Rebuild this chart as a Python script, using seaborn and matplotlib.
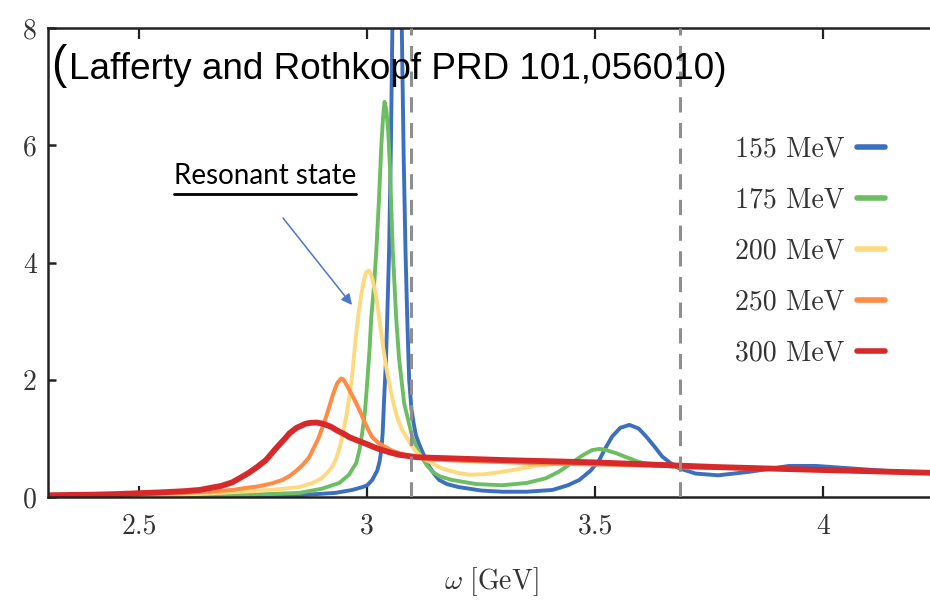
import numpy as np
import pandas as pd
import matplotlib
matplotlib.use("Agg")
import matplotlib.pyplot as plt
import seaborn as sns
from matplotlib.lines import Line2D

# ---------------- data ----------------
temps = ["155 MeV", "175 MeV", "200 MeV", "250 MeV", "300 MeV"]
colors = ["#3D6FBF", "#6DBE63", "#FFD97E", "#FF8B45", "#D7282A"]

omega_155 = [2.30, 2.70, 2.85, 2.93, 2.967, 2.99, 3.0, 3.011, 3.022, 3.027, 3.031, 3.034, 3.037,
             3.041, 3.044, 3.048, 3.052, 3.0555, 3.060, 3.066, 3.071, 3.0755, 3.080, 3.084, 3.088,
             3.092, 3.097, 3.102, 3.107, 3.114, 3.125, 3.136, 3.147, 3.158, 3.175, 3.20, 3.25,
             3.296, 3.35, 3.406, 3.44, 3.465, 3.49, 3.509, 3.52, 3.537, 3.555, 3.575, 3.595,
             3.612, 3.63, 3.647, 3.665, 3.684, 3.72, 3.77, 3.838, 3.925, 3.985, 4.057, 4.167, 4.25]
rho_155 = [0.0, 0.01, 0.03, 0.07, 0.12, 0.17, 0.2, 0.29, 0.45, 0.6, 0.8, 1.1, 1.65,
           2.3, 3.07, 4.2, 6.0, 8.2, 11.0, 13.0, 11.0, 8.2, 5.8, 4.2, 3.0,
           2.0, 1.5, 1.25, 1.05, 0.9, 0.7, 0.52, 0.39, 0.29, 0.22, 0.17, 0.11,
           0.09, 0.09, 0.12, 0.2, 0.29, 0.45, 0.63, 0.8, 1.03, 1.18, 1.23, 1.17,
           1.03, 0.86, 0.69, 0.58, 0.49, 0.40, 0.37, 0.43, 0.53, 0.53, 0.49, 0.43, 0.41]

omega_175 = [2.30, 2.60, 2.75, 2.851, 2.90, 2.939, 2.96, 2.976, 2.983, 2.989, 2.995, 3.000, 3.005,
             3.009, 3.015, 3.020, 3.026, 3.031, 3.035, 3.038, 3.042, 3.046, 3.050, 3.053, 3.056,
             3.060, 3.064, 3.070, 3.081, 3.099, 3.114, 3.130, 3.143, 3.16, 3.186, 3.24, 3.296,
             3.35, 3.392, 3.42, 3.443, 3.47, 3.493, 3.51, 3.524, 3.545, 3.568, 3.595, 3.625,
             3.70, 3.80, 4.00, 4.25]
rho_175 = [0.01, 0.02, 0.04, 0.07, 0.14, 0.24, 0.38, 0.58, 0.8, 1.09, 1.45, 1.95, 2.5,
           3.07, 3.6, 4.2, 5.1, 6.0, 6.5, 6.74, 6.6, 6.25, 5.6, 4.9, 4.2,
           3.6, 3.0, 2.35, 1.6, 1.02, 0.75, 0.55, 0.43, 0.35, 0.29, 0.22, 0.2,
           0.24, 0.32, 0.43, 0.55, 0.7, 0.8, 0.82, 0.8, 0.75, 0.68, 0.6, 0.55,
           0.5, 0.49, 0.46, 0.41]

omega_200 = [2.30, 2.60, 2.75, 2.80, 2.851, 2.88, 2.90, 2.912, 2.923, 2.932, 2.94, 2.947, 2.954,
             2.96, 2.966, 2.971, 2.976, 2.982, 2.988, 2.993, 2.997, 3.000, 3.004, 3.008, 3.012,
             3.019, 3.026, 3.031, 3.036, 3.042, 3.048, 3.056, 3.066, 3.075, 3.086, 3.098, 3.110,
             3.125, 3.142, 3.16, 3.180, 3.20, 3.224, 3.26, 3.296, 3.37, 3.443, 3.60, 3.80,
             4.00, 4.25]
rho_200 = [0.01, 0.04, 0.1, 0.13, 0.17, 0.24, 0.32, 0.41, 0.51, 0.66, 0.85, 1.1, 1.37,
           1.67, 2.0, 2.4, 2.8, 3.2, 3.5, 3.7, 3.82, 3.85, 3.86, 3.8, 3.7,
           3.45, 3.07, 2.78, 2.5, 2.2, 1.95, 1.65, 1.35, 1.17, 1.02, 0.87, 0.75,
           0.65, 0.58, 0.5, 0.45, 0.41, 0.38, 0.39, 0.43, 0.53, 0.59, 0.55, 0.5,
           0.46, 0.41]

omega_250 = [2.30, 2.50, 2.60, 2.65, 2.704, 2.73, 2.76, 2.79, 2.814, 2.83, 2.845, 2.86, 2.873,
             2.883, 2.893, 2.90, 2.910, 2.918, 2.925, 2.93, 2.935, 2.943, 2.947, 2.952, 2.958,
             2.964, 2.976, 2.985, 2.993, 3.002, 3.011, 3.025, 3.040, 3.055, 3.070, 3.085, 3.100,
             3.12, 3.142, 3.20, 3.40, 3.60, 3.80, 4.00, 4.25]
rho_250 = [0.01, 0.04, 0.07, 0.09, 0.12, 0.15, 0.18, 0.23, 0.29, 0.36, 0.45, 0.56, 0.68,
           0.84, 1.0, 1.15, 1.37, 1.57, 1.75, 1.86, 1.95, 2.02, 2.01, 1.95, 1.87,
           1.78, 1.6, 1.45, 1.3, 1.15, 1.02, 0.92, 0.85, 0.79, 0.75, 0.71, 0.69,
           0.66, 0.64, 0.62, 0.57, 0.54, 0.5, 0.46, 0.41]

omega_300 = [2.30, 2.35, 2.40, 2.45, 2.50, 2.55, 2.60, 2.632, 2.68, 2.704, 2.72, 2.74, 2.76,
             2.778, 2.79, 2.80, 2.82, 2.83, 2.845, 2.865, 2.875, 2.888, 2.90, 2.91, 2.92,
             2.935, 2.948, 2.961, 2.98, 3.00, 3.015, 3.033, 3.05, 3.07, 3.09, 3.107, 3.14,
             3.18, 3.30, 3.50, 3.77, 4.00, 4.25]
rho_300 = [0.03, 0.035, 0.04, 0.05, 0.065, 0.08, 0.1, 0.12, 0.19, 0.25, 0.32, 0.41, 0.52,
           0.63, 0.74, 0.83, 1.0, 1.09, 1.18, 1.25, 1.265, 1.27, 1.255, 1.23, 1.2,
           1.13, 1.08, 1.02, 0.96, 0.9, 0.85, 0.8, 0.76, 0.72, 0.70, 0.68, 0.67,
           0.66, 0.63, 0.59, 0.51, 0.46, 0.41]

dashed_x = [3.097, 3.686]
xticks = [2.5, 3.0, 3.5, 4.0]
xtick_labels = ["2.5", "3", "3.5", "4"]
yticks = [0, 2, 4, 6, 8]
ytick_labels = ["0", "2", "4", "6", "8"]

series_omega = [omega_155, omega_175, omega_200, omega_250, omega_300]
series_rho = [rho_155, rho_175, rho_200, rho_250, rho_300]

frames = []
for t, om, rh in zip(temps, series_omega, series_rho):
    frames.append(pd.DataFrame({"omega": om, "rho": rh, "T": t}))
df = pd.concat(frames, ignore_index=True)

# ---------------- style ----------------
sns.set_theme(style="ticks")
plt.rcParams["mathtext.fontset"] = "cm"
plt.rcParams["font.family"] = ["DejaVu Sans"]

W, H = 930, 610
fig = plt.figure(figsize=(W / 100, H / 100), dpi=100)
ax = fig.add_axes([48 / W, (H - 497) / H, 882 / W, 469 / H])

widths = [2.8, 2.8, 2.8, 2.9, 4.2]
for t, c, lw in zip(temps, colors, widths):
    sns.lineplot(data=df[df["T"] == t], x="omega", y="rho", color=c, linewidth=lw,
                 estimator=None, sort=True, legend=False, ax=ax, zorder=2,
                 solid_joinstyle="round", solid_capstyle="round")

for xv in dashed_x:
    ax.axvline(xv, color="#8f8f8f", linewidth=2.2, linestyle=(0, (5, 3.4)), zorder=3)

ax.set_xlim(2.3, 2.3 + 882 / 456)
ax.set_ylim(0, 8)
ax.set_xticks(xticks)
ax.set_xticklabels(xtick_labels)
ax.set_yticks(yticks)
ax.set_yticklabels(ytick_labels)
for lab in ax.get_xticklabels() + ax.get_yticklabels():
    lab.set_fontfamily("cmr10")
    lab.set_fontsize(20)
    lab.set_color("#333333")
ax.tick_params(axis="x", direction="in", length=8, width=1.6, color="#222222", pad=12, top=True)
ax.tick_params(axis="y", direction="in", length=6, width=1.8, color="#222222", pad=8)
ax.spines["right"].set_visible(False)
for s in ["left", "bottom", "top"]:
    ax.spines[s].set_linewidth(1.8)
    ax.spines[s].set_color("#222222")

ax.set_xlabel(r"$\omega\ \mathrm{[GeV]}$", fontsize=20, color="#333333")
ax.set_ylabel("")
ax.xaxis.set_label_coords((491 - 48) / 882, -(565 - 497) / 469)

# legend (labels left, handles right)
handles = [Line2D([], [], color=c, linewidth=4.0) for c in colors]
leg = ax.legend(handles, temps, loc="upper right", frameon=False, markerfirst=False,
                bbox_to_anchor=(885 / W, (H - 136) / H), bbox_transform=fig.transFigure,
                prop={"family": "cmr10", "size": 20}, handlelength=1.0, handletextpad=0.45,
                labelspacing=0.89, borderpad=0, borderaxespad=0)
for txt in leg.get_texts():
    txt.set_color("#333333")

# annotation texts
fig.text(51 / W, 1 - 78 / H, "(", fontsize=33, family="Liberation Sans", color="black", va="baseline")
fig.text(69 / W, 1 - 79 / H, "Lafferty and Rothkopf PRD 101,056010)", fontsize=26.6,
         family="Liberation Sans", color="black", va="baseline")

rs = fig.text(174 / W, 1 - 184 / H, "Resonant state", fontsize=20, family="Lato",
              color="black", va="baseline")
fig.canvas.draw()
bb = rs.get_window_extent()
fig.add_artist(Line2D([bb.x0 / W, bb.x1 / W], [(H - 194) / H, (H - 194) / H],
                      transform=fig.transFigure, color="black", linewidth=2.0))

ax.annotate("", xy=(352, H - 305), xycoords="figure pixels",
            xytext=(283, H - 218), textcoords="figure pixels",
            arrowprops=dict(arrowstyle="-|>", color="#4A78C6", lw=1.1,
                            mutation_scale=16, shrinkA=0, shrinkB=0))

fig.savefig("out.png", dpi=100)
